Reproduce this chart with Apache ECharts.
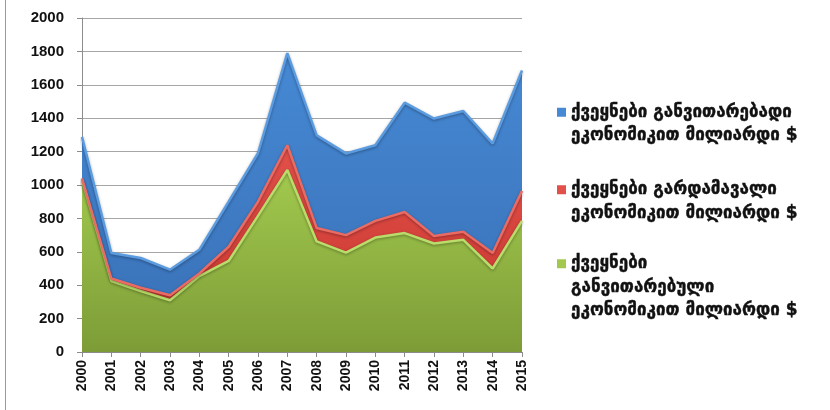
<!DOCTYPE html>
<html>
<head>
<meta charset="utf-8">
<script src="https://cdn.jsdelivr.net/npm/echarts@6/dist/echarts.min.js"></script>
<style>html,body{margin:0;padding:0;background:#fff;}#c{width:830px;height:410px;}</style>
</head>
<body>
<div id="c"></div>
<script>
const years = ['2000','2001','2002','2003','2004','2005','2006','2007','2008','2009','2010','2011','2012','2013','2014','2015'];
const developed = [1030, 425, 365, 310, 455, 545, 815, 1090, 662, 595, 685, 712, 650, 672, 500, 785];
const transition = [10, 15, 20, 30, 15, 85, 85, 148, 80, 105, 100, 126, 45, 48, 93, 180];
const developing = [248, 153, 178, 153, 142, 270, 290, 552, 555, 489, 453, 655, 703, 723, 655, 721];
const yTicks = [0, 200, 400, 600, 800, 1000, 1200, 1400, 1600, 1800, 2000];

const nameDeveloping = 'ქვეყნები განვითარებადი ეკონომიკით მილიარდი $';
const nameTransition = 'ქვეყნები გარდამავალი ეკონომიკით მილიარდი $';
const nameDeveloped = 'ქვეყნები განვითარებული ეკონომიკით მილიარდი $';
const legendText = {};
legendText[nameDeveloping] = 'ქვეყნები განვითარებადი\nეკონომიკით მილიარდი $';
legendText[nameTransition] = 'ქვეყნები გარდამავალი\nეკონომიკით მილიარდი $';
legendText[nameDeveloped] = 'ქვეყნები\nგანვითარებული\nეკონომიკით მილიარდი $';

const LH = 23.5;
function legendCfg(name, top, lines) {
  const h = lines * LH;
  const s0 = (LH - 9) / 2;
  // square aligned with the first text line; invisible anchors set the icon box height
  const icon = 'path://M0,0L0.01,0M0,' + h + 'L0.01,' + h +
    'M0,' + s0 + 'L9,' + s0 + 'L9,' + (s0 + 9) + 'L0,' + (s0 + 9) + 'Z';
  return {
    data: [name], orient: 'vertical', left: 552, top: top,
    itemWidth: 9, itemHeight: h, itemGap: 0, icon: icon,
    formatter: n => legendText[n],
    textStyle: {
      fontFamily: 'DejaVu Sans', fontSize: 17, fontWeight: 'bold', color: '#111',
      lineHeight: LH, textBorderColor: '#111', textBorderWidth: 0.4
    }
  };
}

function grad(top, bottom) {
  return new echarts.graphic.LinearGradient(0, 0, 0, 1, [
    {offset: 0, color: top}, {offset: 1, color: bottom}
  ]);
}

function series(name, data, fill, edge) {
  return {
    name: name, type: 'line', stack: 'total', data: data,
    symbol: 'none', smooth: false,
    lineStyle: {color: edge, width: 2.5, shadowColor: 'rgba(0,0,0,0.35)', shadowBlur: 3, shadowOffsetY: 1},
    itemStyle: {color: fill.colorStops ? fill.colorStops[0].color : fill},
    areaStyle: {color: fill, opacity: 1},
    emphasis: {disabled: true}
  };
}

const chart = echarts.init(document.getElementById('c'));
chart.setOption({
  animation: false,
  backgroundColor: '#ffffff',
  grid: {left: 82, right: 308, top: 18, bottom: 58, containLabel: false},
  legend: [
    legendCfg(nameDeveloping, 95.5, 2),
    legendCfg(nameTransition, 173, 2),
    legendCfg(nameDeveloped, 247, 3)
  ],
  xAxis: {
    type: 'category', data: years, boundaryGap: false,
    axisLine: {lineStyle: {color: '#8c8c8c', width: 1}},
    axisTick: {show: true, alignWithLabel: true, length: 5, lineStyle: {color: '#8c8c8c'}},
    axisLabel: {rotate: 90, interval: 0, margin: 8, color: '#111', fontFamily: 'Liberation Sans', fontWeight: 'bold', fontSize: 14},
    splitLine: {show: false}
  },
  yAxis: {
    type: 'value', min: yTicks[0], max: yTicks[yTicks.length - 1], interval: 200,
    axisLine: {show: true, lineStyle: {color: '#8c8c8c', width: 1}},
    axisTick: {show: true, length: 5, lineStyle: {color: '#8c8c8c'}},
    axisLabel: {margin: 18, color: '#111', fontFamily: 'Liberation Sans', fontWeight: 'bold', fontSize: 15, formatter: v => String(v)},
    splitLine: {show: true, lineStyle: {color: '#a6a6a6', width: 1}}
  },
  graphic: [
    {type: 'line', shape: {x1: 5.5, y1: 0, x2: 5.5, y2: 410}, style: {stroke: '#9a9a9a', lineWidth: 1}, silent: true}
  ],
  series: [
    series(nameDeveloped, developed, grad('#a2c94e', '#7d9c37'), '#b9dc6a'),
    series(nameTransition, transition, grad('#e2504a', '#cc3a33'), '#ea6a64'),
    series(nameDeveloping, developing, grad('#4689d4', '#3b74bb'), '#5b9be0')
  ]
});
</script>
</body>
</html>
